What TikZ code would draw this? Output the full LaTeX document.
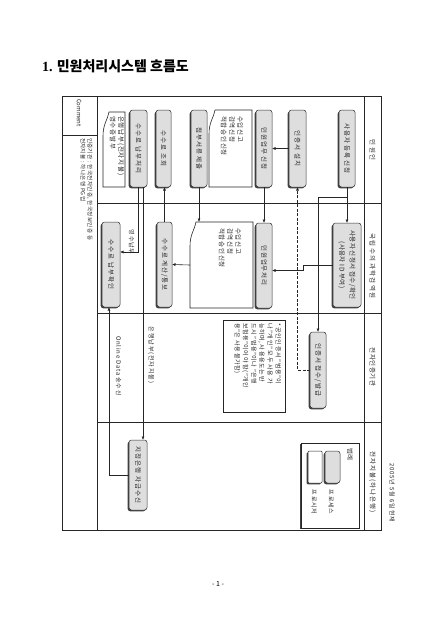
\documentclass[tikz,border=0pt]{standalone}
\usepackage{fontspec}
\setmainfont{Noto Sans CJK KR}
\newfontfamily\serifnum{Liberation Serif}
\usetikzlibrary{calc,shadows,arrows.meta}
\newcommand\docshape[1]{%
  \draw[docline] (#1.south east) -- ($(#1.south west)+(0,24)$)
    .. controls ($(#1.south west)+(0,12)$) and ($(#1.south west)+(5,7)$) .. ($(#1.south west)+(6,0)$)
    -- (#1.north west) -- (#1.north east) -- cycle;}
\begin{document}
\begin{tikzpicture}[x=1pt,y=-1pt,
 every node/.style={inner sep=0pt,outer sep=0pt},
 frame/.style={draw=black!85,line width=0.8pt},
 sh/.style={drop shadow={shadow xshift=-1.3pt,shadow yshift=-1.3pt,fill=black!75,opacity=1}},
 procbox/.style={rotate=-90,draw=black!80,line width=0.5pt,rounded corners=2.5pt,fill=black!13,sh,align=center,
   font=\fontsize{6.5}{10.5}\selectfont\addfontfeatures{LetterSpace=15},text=black!85},
 docbox/.style={rotate=-90},
 docline/.style={draw=black!85,line width=0.6pt,fill=white},
 doctext/.style={rotate=-90,align=left,font=\fontsize{6.5}{8.3}\selectfont\addfontfeatures{LetterSpace=12},text=black!85},
 lab/.style={rotate=-90,font=\fontsize{6}{7}\selectfont\addfontfeatures{LetterSpace=12},text=black!85},
 head/.style={rotate=-90,font=\fontsize{6.5}{7.5}\selectfont,text=black!85},
 arr/.style={draw=black!85,line width=0.6pt,-{Latex[length=3.5pt,width=3pt]}},
]
\fill[white] (0,0) rectangle (443,626);
\useasboundingbox (0,0) rectangle (443,626);

% title and page number
\node[anchor=base west,font=\fontsize{14}{16}\selectfont\bfseries] (title) at (42,71) {{\serifnum 1.} 민원처리시스템 흐름도};
\node[font=\fontsize{7}{8}\selectfont] (pageno) at (218,584) {- 1 -};
\node[lab] (date) at (392,493) {2005년 5월 6일 현재};

% frame
\draw[frame] (62,96) rectangle (381,530);
\draw[frame] (364,96) -- (364,530);
\draw[frame] (97,96) -- (97,530);
\draw[frame] (62,135) -- (97,135);
\foreach \yy in {203,313,422} \draw[frame] (97,\yy) -- (381,\yy);

% lane headers
\node[head,font=\fontsize{6.5}{7.5}\selectfont\addfontfeatures{LetterSpace=30}] (h1) at (372.5,150) {민원인};
\node[head,font=\fontsize{6.5}{7.5}\selectfont\addfontfeatures{LetterSpace=22}] (h2) at (372.5,266) {국립수의과학검역원};
\node[head,font=\fontsize{6.5}{7.5}\selectfont\addfontfeatures{LetterSpace=8}] (h3) at (372.5,367) {전자인증기관};
\node[head,font=\fontsize{6.5}{7.5}\selectfont\addfontfeatures{LetterSpace=15}] (h4) at (372.5,482) {전자지불(하나은행)};

% comment column
\node[head,font=\fontsize{6}{7}\selectfont] (cmt) at (79,113) {Comment};
\node[rotate=-90,anchor=west,align=left,font=\fontsize{5.6}{7}\selectfont\addfontfeatures{LetterSpace=6},text=black!85] (cmtt) at (86.5,138)
  {인증기관 : 한국전자인증, 한국정보인증 등\\전자지불 : 하나은행 PG업};

% lane 1 : 민원인
\node[procbox,minimum width=77pt,minimum height=16pt] (reg) at (347,148.5) {사용자 등록 신청};
\node[procbox,minimum width=77pt,minimum height=17pt] (inst) at (297.5,148.5) {인증서 설치};
\node[procbox,minimum width=77pt,minimum height=16pt] (req) at (264,148.5) {민원업무 신청};
\node[docbox,minimum width=77pt,minimum height=43pt] (doc1) at (230.5,148.5) {};
\docshape{doc1}
\node[doctext,anchor=west] (doc1t) at (232,116) {수입신고\\검역신청\\적합승인신청};
\node[procbox,minimum width=77pt,minimum height=16pt] (att) at (199,148.5) {첨부서류 제출};
\node[procbox,minimum width=77pt,minimum height=15pt] (qry) at (163.5,148.5) {수수료 조회};
\node[procbox,minimum width=77pt,minimum height=17pt] (pay) at (138.5,148.5) {수수료 납부처리};
\node[docbox,minimum width=75pt,minimum height=22pt] (doc3) at (114,149.5) {};
\docshape{doc3}
\node[doctext,anchor=west] (doc3t) at (117,116) {은행납부(전자지불)\\영수증발부};

% lane 2 : 국립수의과학검역원
\node[procbox,minimum width=84pt,minimum height=28pt,font=\fontsize{6.5}{10.5}\selectfont\addfontfeatures{LetterSpace=6}] (acc) at (347,265) {사용자 신청서 접수/확인\\(사용자 ID 부여)};
\node[procbox,minimum width=85pt,minimum height=16pt] (proc) at (264,265.5) {민원업무처리};
\node[docbox,minimum width=86pt,minimum height=63pt] (doc2) at (221.5,265) {};
\docshape{doc2}
\node[doctext,anchor=west] (doc2t) at (230,228) {수입신고\\검역신청\\적합승인신청};
\node[procbox,minimum width=85pt,minimum height=15pt] (calc) at (164.5,264.5) {수수료 계산/통보};
\node[procbox,minimum width=85pt,minimum height=18pt] (conf) at (111,264.5) {수수료 납부확인};

% lane 3 : 전자인증기관
\node[procbox,minimum width=76pt,minimum height=16pt] (cert) at (318,370) {인증서 접수/발급};
\node[rotate=-90,draw=black!85,line width=0.6pt,minimum width=92pt,minimum height=62pt] (note) at (254,366) {};
\node[rotate=-90,anchor=west,align=left,font=\fontsize{6}{8.2}\selectfont\addfontfeatures{LetterSpace=10},text=black!85] (notet) at (257.5,323)
  {* 공인인증서 "범용"이\\나 "개인" 모두 사용 가\\능하며, 사용용도는 반\\드시 "범용"이나 "은행\\보험용"이어야 함("개인\\용"은 사용 불가함)};

% lane 4 : 전자지불
\node[procbox,minimum width=70pt,minimum height=18pt] (bank) at (138,475) {지정은행 자금수신};

% legend
\node[rotate=-90,draw=black!85,line width=0.6pt,fill=white,sh,minimum width=85pt,minimum height=58pt] (leg) at (330,485.5) {};
\node[head] (legt) at (350,454) {범례};
\node[procbox,minimum width=32pt,minimum height=15pt] (legp) at (332.5,467) {};
\node[rotate=-90,draw=black!85,line width=0.5pt,fill=white,rounded corners=1pt,sh,minimum width=32pt,minimum height=14pt] (legd) at (315,467) {};
\node[lab] (legpt) at (331,502) {프로세스};
\node[lab] (legdt) at (314,502) {프로시저};

% connectors
\coordinate (b1) at ($(reg.east)+(0,10)$);
\draw[arr] (reg.east) -- (acc.west);
\draw[arr] (b1) -| (cert.west);
\draw[arr] (acc.south) -- ++(-30,0) |- ($(proc.north)+(0,5)$);
\draw[arr,dashed,dash pattern=on 3pt off 1.5pt] (cert.south) -| (inst.east);
\draw[arr] (inst.south) -- (req.north);
\draw[arr] (req.east) -- (proc.west);
\draw[arr] (att.east) -- (att.east |- doc2.west);
\draw[arr] (doc2.south) -- (calc.north);
\draw[arr] (calc.west) -- (calc.west |- qry.east);
\coordinate (p1) at ([xshift=-0.5pt]pay.east);
\coordinate (p2) at ([xshift=4.5pt]pay.east);
\draw[arr] (p1) |- ([yshift=12.5pt]conf.north);
\draw[arr] (p2) -- (p2 |- bank.west);
\draw[arr] (bank.south) -| ([xshift=-2pt]conf.east);

% connector labels
\node[lab,font=\fontsize{6}{7}\selectfont\addfontfeatures{LetterSpace=15}] (l1) at (131.5,242) {영수납부};
\node[lab,font=\fontsize{6}{7}\selectfont\addfontfeatures{LetterSpace=15}] (l2) at (151,355) {은행납부(전자지불)};
\node[lab,font=\fontsize{6}{7}\selectfont\addfontfeatures{LetterSpace=12}] (l3) at (118.5,366) {Online Data 송수신};
\end{tikzpicture}
\end{document}
